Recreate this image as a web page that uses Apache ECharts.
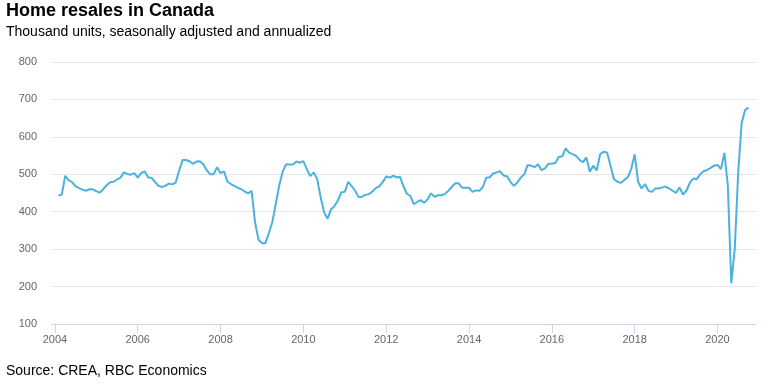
<!DOCTYPE html>
<html>
<head>
<meta charset="utf-8">
<script src="https://cdn.jsdelivr.net/npm/echarts@6/dist/echarts.min.js"></script>
<style>
html,body{margin:0;padding:0;background:#fff;}
#chart{width:767px;height:388px;}
</style>
</head>
<body>
<div id="chart"></div>
<script>
// Monthly data, Jan 2004 – Sep 2020 (thousand units, SAAR)
var startYear = 2004;
var resales = [
  443, 446, 496, 484, 479, 468, 463, 459, 456, 460, 460, 455,
  451, 460, 471, 479, 480, 486, 491, 505, 501, 499, 503, 491,
  503, 508, 492, 490, 480, 469, 466, 469, 475, 473, 478, 510,
  538, 538, 535, 528, 534, 535, 527, 511, 500, 500, 519, 503,
  508, 480, 474, 469, 464, 460, 454, 449, 456, 372, 325, 316,
  316, 343, 372, 421, 470, 507, 527, 526, 526, 534, 531, 535,
  514, 495, 505, 487, 439, 399, 381, 406, 415, 430, 452, 453,
  480, 468, 456, 439, 440, 445, 447, 454, 463, 468, 479, 494,
  491, 496, 492, 493, 468, 448, 442, 420, 426, 431, 424, 433,
  449, 440, 444, 444, 447, 456, 466, 476, 476, 464, 464, 464,
  453, 457, 456, 466, 491, 492, 502, 505, 508, 497, 495, 480,
  469, 478, 491, 500, 525, 523, 519, 527, 511, 516, 528, 528,
  530, 546, 548, 569, 558, 554, 549, 539, 532, 545, 507, 523,
  510, 554, 560, 558, 523, 487, 480, 477, 485, 492, 514, 553,
  480, 462, 474, 456, 453, 462, 462, 465, 467, 462, 456, 450,
  465, 446, 456, 478, 489, 487, 500, 508, 512, 517, 523, 525,
  514, 557, 470, 209, 300, 505, 637, 672, 678
];
var xTicks = [2004, 2006, 2008, 2010, 2012, 2014, 2016, 2018, 2020];
var yTicks = [100, 200, 300, 400, 500, 600, 700, 800];

var seriesData = resales.map(function (v, i) {
  return [startYear + (i + 1) / 12, v];
});

var chart = echarts.init(document.getElementById('chart'));
var font = '"Liberation Sans", Arial, sans-serif';
chart.setOption({
  animation: false,
  backgroundColor: '#ffffff',
  title: [
    { text: 'Home resales in Canada', left: 1, top: -3,
      textStyle: { fontFamily: font, fontSize: 18, fontWeight: 'bold', color: '#000' } },
    { text: 'Thousand units, seasonally adjusted and annualized', left: 1, top: 20,
      textStyle: { fontFamily: font, fontSize: 14, fontWeight: 'normal', color: '#000' } },
    { text: 'Source: CREA, RBC Economics', left: 1, top: 359,
      textStyle: { fontFamily: font, fontSize: 14, fontWeight: 'normal', color: '#000' } }
  ],
  grid: { left: 52, right: 11, top: 62, bottom: 64, containLabel: false },
  xAxis: {
    type: 'value',
    min: 2003.93,
    max: 2020.93,
    splitLine: { show: false },
    axisLine: { show: true, lineStyle: { color: '#ccd6eb', width: 1 } },
    axisTick: { show: true, customValues: xTicks, length: 9, lineStyle: { color: '#ccd6eb' } },
    axisLabel: {
      customValues: xTicks,
      color: '#666666', fontFamily: font, fontSize: 11, margin: 10,
      formatter: function (v) { return String(Math.round(v)); }
    }
  },
  yAxis: {
    type: 'value',
    min: yTicks[0],
    max: yTicks[yTicks.length - 1],
    interval: 100,
    axisLine: { show: false },
    axisTick: { show: false },
    splitLine: { lineStyle: { color: '#e6e6e6', width: 1 } },
    axisLabel: { color: '#666666', fontFamily: font, fontSize: 11, margin: 15 }
  },
  series: [{
    type: 'line',
    data: seriesData,
    showSymbol: false,
    symbol: 'none',
    lineStyle: { color: '#4db1de', width: 2 },
    itemStyle: { color: '#4db1de' }
  }]
});
</script>
</body>
</html>
